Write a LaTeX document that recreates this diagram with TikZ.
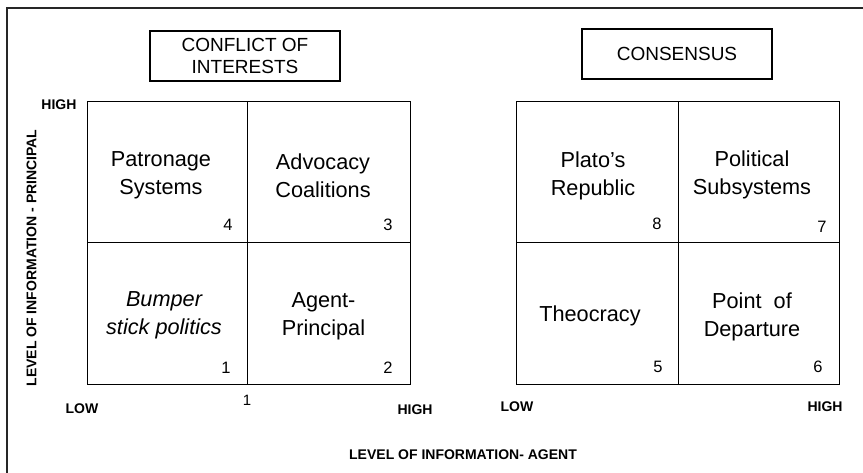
\documentclass[tikz,border=0pt]{standalone}
\usepackage{fontspec}
\setmainfont{Liberation Sans}
\begin{document}
\begin{tikzpicture}[x=1pt,y=-1pt,
  frame/.style={draw=black!85, line width=2pt},
  cell/.style={draw, line width=1.2pt, inner sep=0pt, anchor=north west},
  celltext/.style={font=\fontsize{21.7}{28}\selectfont, align=center, inner sep=0pt},
  num/.style={font=\fontsize{16.5}{18}\selectfont, inner sep=0pt},
  axis/.style={font=\bfseries\fontsize{14}{16}\selectfont, inner sep=0pt},
  titlebox/.style={draw, line width=1.2pt, align=center, font=\fontsize{19}{21.7}\selectfont,
    minimum width=190pt, minimum height=50pt, inner sep=0pt}
]
\useasboundingbox (0,0) rectangle (863,473);

% outer frame (open to the right and bottom)
\coordinate (fb) at (6.5,473);
\coordinate (ftl) at (6.5,8.5);
\coordinate (fr) at (863,8.5);
\draw[frame] (fb) -- (ftl) -- (fr);

% headings
\node[titlebox] (conflict) at (245,56) {CONFLICT OF\\INTERESTS};
\node[titlebox] (consensus) at (677,54) {CONSENSUS};

% left matrix: conflict of interests
\node[cell, minimum width=160pt, minimum height=141pt] (c4) at (87,101) {};
\node[cell, minimum width=163pt, minimum height=141pt] (c3) at (247,101) {};
\node[cell, minimum width=160pt, minimum height=142pt] (c1) at (87,242) {};
\node[cell, minimum width=163pt, minimum height=142pt] (c2) at (247,242) {};

\node[celltext] (t4) at (161,175.5) {Patronage\\Systems};
\node[celltext] (t3) at (323,175.5) {Advocacy\\Coalitions};
\node[celltext, font=\itshape\fontsize{21.7}{28}\selectfont] (t1) at (164,315.5) {Bumper\\stick politics};
\node[celltext] (t2) at (323.5,316.5) {Agent-\\Principal};

\node[num] (n4) at (228,225) {4};
\node[num] (n3) at (388,225) {3};
\node[num] (n1) at (226,368) {1};
\node[num] (n2) at (388,368) {2};

% right matrix: consensus
\node[cell, minimum width=162pt, minimum height=141pt] (c8) at (516,101) {};
\node[cell, minimum width=161pt, minimum height=141pt] (c7) at (678,101) {};
\node[cell, minimum width=162pt, minimum height=142pt] (c5) at (516,242) {};
\node[cell, minimum width=161pt, minimum height=142pt] (c6) at (678,242) {};

\node[celltext] (t8) at (593,176) {Plato’s\\Republic};
\node[celltext] (t7) at (752,175) {Political\\Subsystems};
\node[celltext] (t5) at (590,316) {Theocracy};
\node[celltext] (t6) at (752,317) {Point\ \ of\\Departure};

\node[num] (n8) at (657,224) {8};
\node[num] (n7) at (822,227) {7};
\node[num] (n5) at (658,367) {5};
\node[num] (n6) at (818,367) {6};

% axis labels
\node[axis] (yhigh) at (59,105) {HIGH};
\node[axis, rotate=90] (ylab) at (31.5,258) {LEVEL OF INFORMATION - PRINCIPAL};
\node[axis] (lowl) at (82,408.5) {LOW};
\node[num, font=\fontsize{15}{18}\selectfont] (mid) at (247,400) {1};
\node[axis] (highl) at (415,409.5) {HIGH};
\node[axis] (lowr) at (517,407) {LOW};
\node[axis] (highr) at (825,407) {HIGH};
\node[axis] (xlab) at (463,455) {LEVEL OF INFORMATION- AGENT};
\end{tikzpicture}
\end{document}
